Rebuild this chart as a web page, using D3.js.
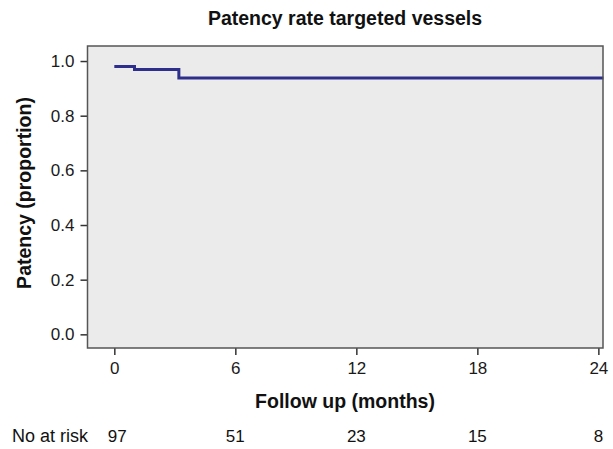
<!DOCTYPE html>
<html>
<head>
<meta charset="utf-8">
<script src="https://cdn.jsdelivr.net/npm/d3@7"></script>
<style>
  body { margin: 0; background: #fff; }
  svg { display: block; font-family: "Liberation Sans", Arial, sans-serif; }
</style>
</head>
<body>
<div class="chart"></div>
<script>
// Kaplan-Meier step data (months, proportion)
const stepTimes = [0, 1, 3.2, 24.25];
const stepValues = [0.98, 0.969, 0.938, 0.938];

// ticks
const xTicks = [0, 6, 12, 18, 24];
const yTicks = [0, 0.2, 0.4, 0.6, 0.8, 1.0];

// number at risk row
const riskTimes = [0, 6, 12, 18, 24];
const atRisk = [97, 51, 23, 15, 8];

const width = 613, height = 449;
const box = { left: 87.5, right: 603, top: 46, bottom: 348 };

const svg = d3.select(".chart")
  .append("svg")
    .attr("width", width)
    .attr("height", height);

const xScale = d3.scaleLinear()
  .domain([-1.33, 24.23])
  .range([box.left, box.right]);

const yScale = d3.scaleLinear()
  .domain([-0.05, 1.055])
  .range([box.bottom, box.top]);

// plot background
svg.append("rect")
  .attr("x", box.left)
  .attr("y", box.top)
  .attr("width", box.right - box.left)
  .attr("height", box.bottom - box.top)
  .attr("fill", "#ebebeb");

// y axis
const yAxis = svg.append("g")
  .attr("transform", `translate(${box.left},0)`)
  .call(d3.axisLeft(yScale).tickValues(yTicks).tickFormat(d3.format(".1f")).tickSize(7).tickPadding(6));
yAxis.select(".domain").remove();
yAxis.selectAll("line").attr("stroke", "#333").attr("stroke-width", 1.5);
yAxis.selectAll("text")
  .attr("fill", "#1a1a1a")
  .style("font-size", "17px")
  .style("font-family", "'Liberation Sans', Arial, sans-serif");

// x axis
const xAxis = svg.append("g")
  .attr("transform", `translate(0,${box.bottom})`)
  .call(d3.axisBottom(xScale).tickValues(xTicks).tickSize(7).tickPadding(7));
xAxis.select(".domain").remove();
xAxis.selectAll("line").attr("stroke", "#333").attr("stroke-width", 1.5);
xAxis.selectAll("text")
  .attr("fill", "#1a1a1a")
  .style("font-size", "17px")
  .style("font-family", "'Liberation Sans', Arial, sans-serif");

// survival step line
const stepData = stepTimes.map((t, i) => ({ t, v: stepValues[i] }));
const line = d3.line()
  .x(d => xScale(d.t))
  .y(d => yScale(d.v))
  .curve(d3.curveStepAfter);

svg.append("path")
  .datum(stepData)
  .attr("d", line)
  .attr("fill", "none")
  .attr("stroke", "#2e2e8c")
  .attr("stroke-width", 3);

// plot border
svg.append("rect")
  .attr("x", box.left)
  .attr("y", box.top)
  .attr("width", box.right - box.left)
  .attr("height", box.bottom - box.top)
  .attr("fill", "none")
  .attr("stroke", "#555")
  .attr("stroke-width", 1.5);

// title
svg.append("text")
  .attr("x", 345)
  .attr("y", 25)
  .attr("text-anchor", "middle")
  .style("font-size", "19.5px")
  .style("font-weight", "bold")
  .attr("fill", "#111")
  .text("Patency rate targeted vessels");

// axis titles
svg.append("text")
  .attr("x", 345)
  .attr("y", 408)
  .attr("text-anchor", "middle")
  .style("font-size", "19.5px")
  .style("font-weight", "bold")
  .attr("fill", "#111")
  .text("Follow up (months)");

svg.append("text")
  .attr("transform", `translate(31,${(box.top + box.bottom) / 2 - 4}) rotate(-90)`)
  .attr("text-anchor", "middle")
  .style("font-size", "19.5px")
  .style("font-weight", "bold")
  .attr("fill", "#111")
  .text("Patency (proportion)");

// number at risk
svg.append("text")
  .attr("x", 12)
  .attr("y", 442)
  .style("font-size", "18px")
  .attr("fill", "#111")
  .text("No at risk");

svg.selectAll(".risk")
  .data(atRisk)
  .join("text")
    .attr("class", "risk")
    .attr("x", (d, i) => xScale(riskTimes[i]) + (i === 0 ? 3 : 0))
    .attr("y", 442)
    .attr("text-anchor", "middle")
    .style("font-size", "17px")
    .attr("fill", "#111")
    .text(d => d);
</script>
</body>
</html>
